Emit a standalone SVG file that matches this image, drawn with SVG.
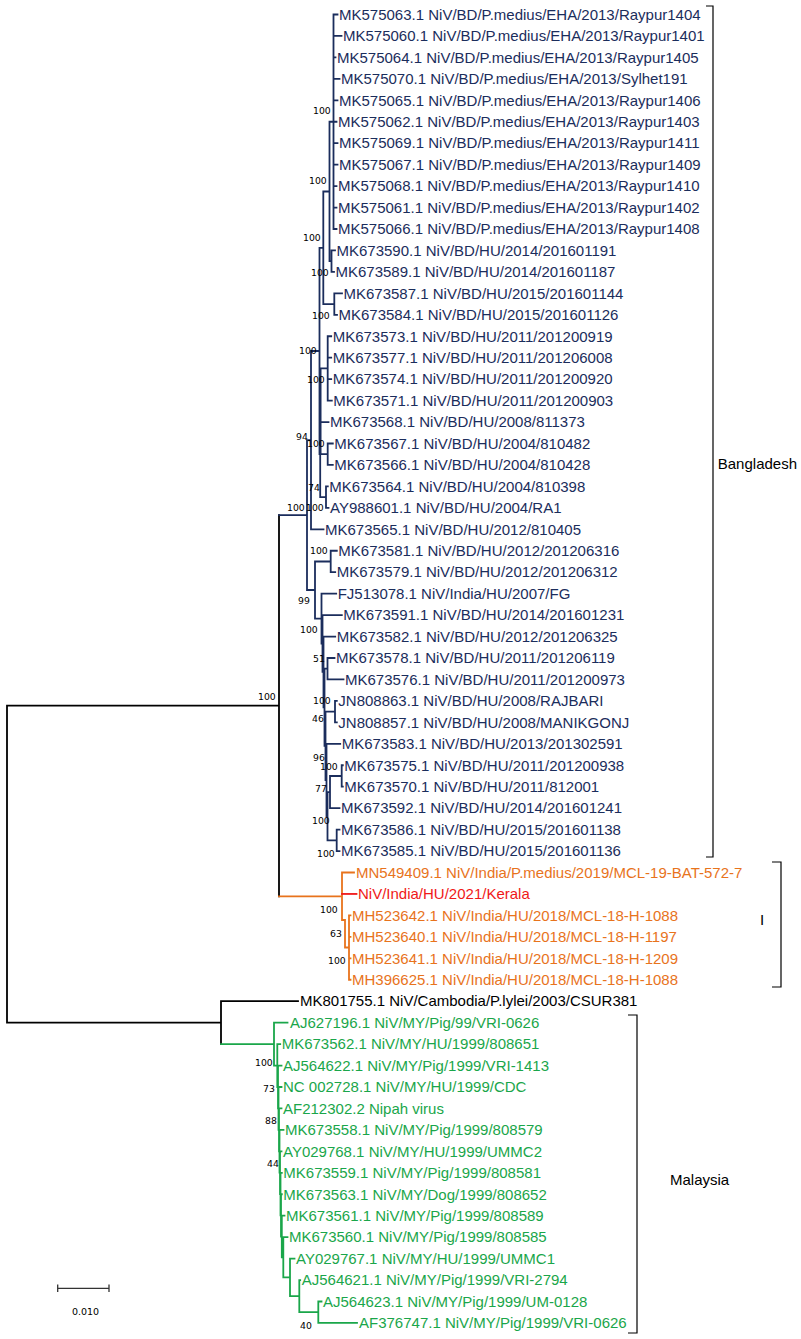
<svg xmlns="http://www.w3.org/2000/svg" width="801" height="1339" viewBox="0 0 801 1339">
<style>
.l{fill:none;stroke-width:1.8;stroke-linecap:square}
.nv{stroke:#1b2d5c}.bk{stroke:#000}.or{stroke:#e8731c}.rd{stroke:#f01818}.gr{stroke:#1aa64a}
text{font-family:"Liberation Sans",Arial,sans-serif;font-size:15px}
.tnv{fill:#1b2d5c}.tor{fill:#e8731c}.trd{fill:#f01818}.tgr{fill:#1aa64a}.tbk{fill:#000}
.bs{font-family:"DejaVu Sans",Verdana,sans-serif;font-size:9.3px;fill:#000}
.br{fill:none;stroke:#000;stroke-width:1.2}
</style>
<g id="connectors">
<path class="l bk" d="M7,705.7V1022.7M7,705.7H279M7,1022.7H221M279,515.1V896.3M221,1001.2V1044.1M221,1001.2H298"/>
<path class="l nv" d="M279,515.1H307
M333.5,14.5V229M333.5,14.5H337.5M333.5,35.95H341.5M333.5,57.4H335.5M333.5,78.85H339.5M333.5,100.3H337.5M333.5,121.75H336.5M333.5,143.2H337.5M333.5,164.65H337.5M333.5,186.1H336.5M333.5,207.55H336.5M333.5,229H336.5
M331.5,250.45V271.9M331.5,250.45H335M331.5,271.9H334
M329.5,121.75V261.2M329.5,121.75H333.5M329.5,261.2H331.5
M334.3,293.35V314.8M334.3,293.35H342M334.3,314.8H337
M323.3,191.5V304.1M323.3,191.5H329.5M323.3,304.1H334.3
M327.7,336.25V400.6M327.7,336.25H331.2M327.7,357.7H331.2M327.7,379.15H331.2M327.7,400.6H331.8
M327.7,443.5V464.95M327.7,443.5H332.8M327.7,464.95H332.8
M320.6,368.4V454.2M320.6,368.4H327.7M320.6,422.05H328.5M320.6,454.2H327.7
M326,486.4V507.85M326,486.4H327.8M326,507.85H328.5
M320.2,411.3V497.1M320.2,411.3H320.6M320.2,497.1H326
M319.5,247.8V454.2M319.5,247.8H323.3M319.5,454.2H320.2
M311,351V529.3M311,351H319.5M311,529.3H323.5
M307,440.2V590M307,440.2H311M307,590H315
M330.7,550.75V572.2M330.7,550.75H336.8M330.7,572.2H335.2
M315,561.5V618.6M315,561.5H330.7M315,618.6H321.5
M321.5,593.65V643.5M321.5,593.65H336.2M321.5,643.5H322.5
M322.5,615.1V671.9M322.5,615.1H341.8M322.5,671.9H323.5
M323.5,636.55V707.3M323.5,636.55H335.2M323.5,707.3H324.5
M327.5,658V679.45M327.5,658H334.5M327.5,679.45H343.5
M324.5,668.7V745.8M324.5,668.7H327.5M324.5,745.8H325.5
M335,700.9V722.35M335,700.9H336.8M335,722.35H336.8
M325.5,711.6V780M325.5,711.6H335M325.5,780H326.5
M326.5,743.8V816.2M326.5,743.8H340.2M326.5,816.2H327.5
M341.7,765.25V786.7M341.7,765.25H342.8M341.7,786.7H342.8
M330,776V808.15M330,776H341.7M330,808.15H339.5
M327.5,792.1V840.3M327.5,792.1H330M327.5,840.3H336.7
M336.7,829.6V851.05M336.7,829.6H339.5M336.7,851.05H339.5"/>
<path class="l or" d="M279,896.3H342M342,872.5V920M342,872.5H354M342,920H345M345,920V947.5M345,947.5H349M349,915.4V979.75M349,915.4H350.5M349,936.85H350.5M349,958.3H350.5M349,979.75H350.5"/>
<path class="l rd" d="M342,893.95H356.5"/>
<path class="l gr" d="M221,1044.1H274M274,1022.65V1065.6M274,1022.65H287.5M274,1065.6H277.3
M277.3,1044.1V1087M277.3,1044.1H280.2M277.3,1087H278
M278,1065.55V1108.4M278,1065.55H281.5M278,1108.4H278.5
M278.5,1087V1129.9M278.5,1087H281.5M278.5,1129.9H279
M279,1108.45V1151.3M279,1108.45H281.5M279,1151.3H279.5
M279.5,1129.9V1172.7M279.5,1129.9H283.5M279.5,1172.7H280
M280,1151.35V1194.1M280,1151.35H281.5M280,1194.1H280.5
M280.5,1172.8V1215.4M280.5,1172.8H281.8M280.5,1215.4H281
M281,1194.25V1236.5M281,1194.25H281.8M281,1236.5H281.8
M281.8,1215.7V1257.3M281.8,1215.7H284.5M281.8,1257.3H283.3
M283.3,1237.15V1277.4M283.3,1237.15H287.5M283.3,1277.4H290
M290,1258.6V1296.1M290,1258.6H294.5M290,1296.1H299.3
M299.3,1280.05V1312.2M299.3,1280.05H300.2M299.3,1312.2H318.3
M318.3,1301.5V1322.95M318.3,1301.5H321.5M318.3,1322.95H357"/>
</g>
<g id="bangladesh">
<g id="t1"><text class="tnv" x="339" y="19.7">MK575063.1 NiV/BD/P.medius/EHA/2013/Raypur1404</text></g>
<g id="t2"><text class="tnv" x="343" y="41.2">MK575060.1 NiV/BD/P.medius/EHA/2013/Raypur1401</text></g>
<g id="t3"><text class="tnv" x="337" y="62.6">MK575064.1 NiV/BD/P.medius/EHA/2013/Raypur1405</text></g>
<g id="t4"><text class="tnv" x="341" y="84.1">MK575070.1 NiV/BD/P.medius/EHA/2013/Sylhet191</text></g>
<g id="t5"><text class="tnv" x="339" y="105.5">MK575065.1 NiV/BD/P.medius/EHA/2013/Raypur1406</text></g>
<g id="t6"><text class="tnv" x="338" y="127">MK575062.1 NiV/BD/P.medius/EHA/2013/Raypur1403</text></g>
<g id="t7"><text class="tnv" x="339" y="148.4">MK575069.1 NiV/BD/P.medius/EHA/2013/Raypur1411</text></g>
<g id="t8"><text class="tnv" x="339" y="169.9">MK575067.1 NiV/BD/P.medius/EHA/2013/Raypur1409</text></g>
<g id="t9"><text class="tnv" x="338" y="191.3">MK575068.1 NiV/BD/P.medius/EHA/2013/Raypur1410</text></g>
<g id="t10"><text class="tnv" x="338" y="212.8">MK575061.1 NiV/BD/P.medius/EHA/2013/Raypur1402</text></g>
<g id="t11"><text class="tnv" x="338" y="234.2">MK575066.1 NiV/BD/P.medius/EHA/2013/Raypur1408</text></g>
<g id="t12"><text class="tnv" x="336.5" y="255.7">MK673590.1 NiV/BD/HU/2014/201601191</text></g>
<g id="t13"><text class="tnv" x="335.5" y="277.1">MK673589.1 NiV/BD/HU/2014/201601187</text></g>
<g id="t14"><text class="tnv" x="343.5" y="298.6">MK673587.1 NiV/BD/HU/2015/201601144</text></g>
<g id="t15"><text class="tnv" x="338.5" y="320">MK673584.1 NiV/BD/HU/2015/201601126</text></g>
<g id="t16"><text class="tnv" x="332.7" y="341.5">MK673573.1 NiV/BD/HU/2011/201200919</text></g>
<g id="t17"><text class="tnv" x="332.7" y="362.9">MK673577.1 NiV/BD/HU/2011/201206008</text></g>
<g id="t18"><text class="tnv" x="332.7" y="384.4">MK673574.1 NiV/BD/HU/2011/201200920</text></g>
<g id="t19"><text class="tnv" x="333.3" y="405.8">MK673571.1 NiV/BD/HU/2011/201200903</text></g>
<g id="t20"><text class="tnv" x="330" y="427.3">MK673568.1 NiV/BD/HU/2008/811373</text></g>
<g id="t21"><text class="tnv" x="334.3" y="448.7">MK673567.1 NiV/BD/HU/2004/810482</text></g>
<g id="t22"><text class="tnv" x="334.3" y="470.2">MK673566.1 NiV/BD/HU/2004/810428</text></g>
<g id="t23"><text class="tnv" x="329.3" y="491.6">MK673564.1 NiV/BD/HU/2004/810398</text></g>
<g id="t24"><text class="tnv" x="330" y="513.1">AY988601.1 NiV/BD/HU/2004/RA1</text></g>
<g id="t25"><text class="tnv" x="325" y="534.5">MK673565.1 NiV/BD/HU/2012/810405</text></g>
<g id="t26"><text class="tnv" x="338.3" y="556">MK673581.1 NiV/BD/HU/2012/201206316</text></g>
<g id="t27"><text class="tnv" x="336.7" y="577.4">MK673579.1 NiV/BD/HU/2012/201206312</text></g>
<g id="t28"><text class="tnv" x="337.7" y="598.9">FJ513078.1 NiV/India/HU/2007/FG</text></g>
<g id="t29"><text class="tnv" x="343.3" y="620.3">MK673591.1 NiV/BD/HU/2014/201601231</text></g>
<g id="t30"><text class="tnv" x="336.7" y="641.8">MK673582.1 NiV/BD/HU/2012/201206325</text></g>
<g id="t31"><text class="tnv" x="336" y="663.2">MK673578.1 NiV/BD/HU/2011/201206119</text></g>
<g id="t32"><text class="tnv" x="345" y="684.7">MK673576.1 NiV/BD/HU/2011/201200973</text></g>
<g id="t33"><text class="tnv" x="338.3" y="706.1">JN808863.1 NiV/BD/HU/2008/RAJBARI</text></g>
<g id="t34"><text class="tnv" x="338.3" y="727.6">JN808857.1 NiV/BD/HU/2008/MANIKGONJ</text></g>
<g id="t35"><text class="tnv" x="341.7" y="749">MK673583.1 NiV/BD/HU/2013/201302591</text></g>
<g id="t36"><text class="tnv" x="344.3" y="770.5">MK673575.1 NiV/BD/HU/2011/201200938</text></g>
<g id="t37"><text class="tnv" x="344.3" y="791.9">MK673570.1 NiV/BD/HU/2011/812001</text></g>
<g id="t38"><text class="tnv" x="341" y="813.4">MK673592.1 NiV/BD/HU/2014/201601241</text></g>
<g id="t39"><text class="tnv" x="341" y="834.8">MK673586.1 NiV/BD/HU/2015/201601138</text></g>
<g id="t40"><text class="tnv" x="341" y="856.3">MK673585.1 NiV/BD/HU/2015/201601136</text></g>
</g>
<g id="india">
<g id="t41"><text class="tor" x="356" y="877.7">MN549409.1 NiV/India/P.medius/2019/MCL-19-BAT-572-7</text></g>
<g id="t42"><text class="trd" x="358" y="899.2">NiV/India/HU/2021/Kerala</text></g>
<g id="t43"><text class="tor" x="352" y="920.6">MH523642.1 NiV/India/HU/2018/MCL-18-H-1088</text></g>
<g id="t44"><text class="tor" x="352" y="942.1">MH523640.1 NiV/India/HU/2018/MCL-18-H-1197</text></g>
<g id="t45"><text class="tor" x="352" y="963.5">MH523641.1 NiV/India/HU/2018/MCL-18-H-1209</text></g>
<g id="t46"><text class="tor" x="352" y="985">MH396625.1 NiV/India/HU/2018/MCL-18-H-1088</text></g>
</g>
<g id="cambodia"><g id="t47"><text class="tbk" x="300" y="1006.4">MK801755.1 NiV/Cambodia/P.lylei/2003/CSUR381</text></g></g>
<g id="malaysia">
<g id="t48"><text class="tgr" x="290" y="1027.9">AJ627196.1 NiV/MY/Pig/99/VRI-0626</text></g>
<g id="t49"><text class="tgr" x="281.7" y="1049.3">MK673562.1 NiV/MY/HU/1999/808651</text></g>
<g id="t50"><text class="tgr" x="283" y="1070.8">AJ564622.1 NiV/MY/Pig/1999/VRI-1413</text></g>
<g id="t51"><text class="tgr" x="283" y="1092.2">NC 002728.1 NiV/MY/HU/1999/CDC</text></g>
<g id="t52"><text class="tgr" x="283" y="1113.7">AF212302.2 Nipah virus</text></g>
<g id="t53"><text class="tgr" x="285" y="1135.1">MK673558.1 NiV/MY/Pig/1999/808579</text></g>
<g id="t54"><text class="tgr" x="283" y="1156.6">AY029768.1 NiV/MY/HU/1999/UMMC2</text></g>
<g id="t55"><text class="tgr" x="283.3" y="1178">MK673559.1 NiV/MY/Pig/1999/808581</text></g>
<g id="t56"><text class="tgr" x="283.3" y="1199.5">MK673563.1 NiV/MY/Dog/1999/808652</text></g>
<g id="t57"><text class="tgr" x="286" y="1220.9">MK673561.1 NiV/MY/Pig/1999/808589</text></g>
<g id="t58"><text class="tgr" x="289" y="1242.4">MK673560.1 NiV/MY/Pig/1999/808585</text></g>
<g id="t59"><text class="tgr" x="296" y="1263.8">AY029767.1 NiV/MY/HU/1999/UMMC1</text></g>
<g id="t60"><text class="tgr" x="301.7" y="1285.3">AJ564621.1 NiV/MY/Pig/1999/VRI-2794</text></g>
<g id="t61"><text class="tgr" x="323" y="1306.7">AJ564623.1 NiV/MY/Pig/1999/UM-0128</text></g>
<g id="t62"><text class="tgr" x="359" y="1328.2">AF376747.1 NiV/MY/Pig/1999/VRI-0626</text></g>
</g>
<g id="bootstrap">
<text class="bs" x="313" y="113.5">100</text>
<text class="bs" x="309" y="183.5">100</text>
<text class="bs" x="303" y="240.5">100</text>
<text class="bs" x="311" y="275.5">100</text>
<text class="bs" x="312" y="318.5">100</text>
<text class="bs" x="299" y="353.5">100</text>
<text class="bs" x="307" y="382.5">100</text>
<text class="bs" x="296" y="439.5">94</text>
<text class="bs" x="307" y="446.5">100</text>
<text class="bs" x="308" y="490.5">74</text>
<text class="bs" x="287" y="510.5">100</text>
<text class="bs" x="306" y="510.5">100</text>
<text class="bs" x="310" y="553.5">100</text>
<text class="bs" x="298" y="603.5">99</text>
<text class="bs" x="300" y="632.5">100</text>
<text class="bs" x="313" y="661.5">51</text>
<text class="bs" x="313" y="703.5">100</text>
<text class="bs" x="312" y="721.5">46</text>
<text class="bs" x="313" y="760.5">96</text>
<text class="bs" x="320" y="769.5">100</text>
<text class="bs" x="315" y="791.5">77</text>
<text class="bs" x="312" y="823.5">100</text>
<text class="bs" x="317" y="856.5">100</text>
<text class="bs" x="258" y="699.5">100</text>
<text class="bs" x="320" y="912.5">100</text>
<text class="bs" x="330" y="936.5">63</text>
<text class="bs" x="328" y="963.5">100</text>
<text class="bs" x="255" y="1065.5">100</text>
<text class="bs" x="263" y="1091.5">73</text>
<text class="bs" x="265" y="1123.5">88</text>
<text class="bs" x="267" y="1166.5">44</text>
<text class="bs" x="300" y="1328.5">40</text>
</g>
<g id="brackets">
<path class="br" d="M706,6H713V857H706"/>
<text class="tbk" x="797" y="469" text-anchor="end">Bangladesh</text>
<path class="br" d="M772,862H781V987H772"/>
<text class="tbk" x="760" y="925">I</text>
<path class="br" d="M628,1015H637V1333H628"/>
<text class="tbk" x="670" y="1185">Malaysia</text>
</g>
<g id="scalebar">
<path fill="none" stroke="#333" stroke-width="1.3" d="M57.7,1288.3H109M57.7,1284.5V1292M109,1284.5V1292"/>
<text class="bs" x="85.5" y="1315" text-anchor="middle" style="font-size:9.5px">0.010</text>
</g>
</svg>
